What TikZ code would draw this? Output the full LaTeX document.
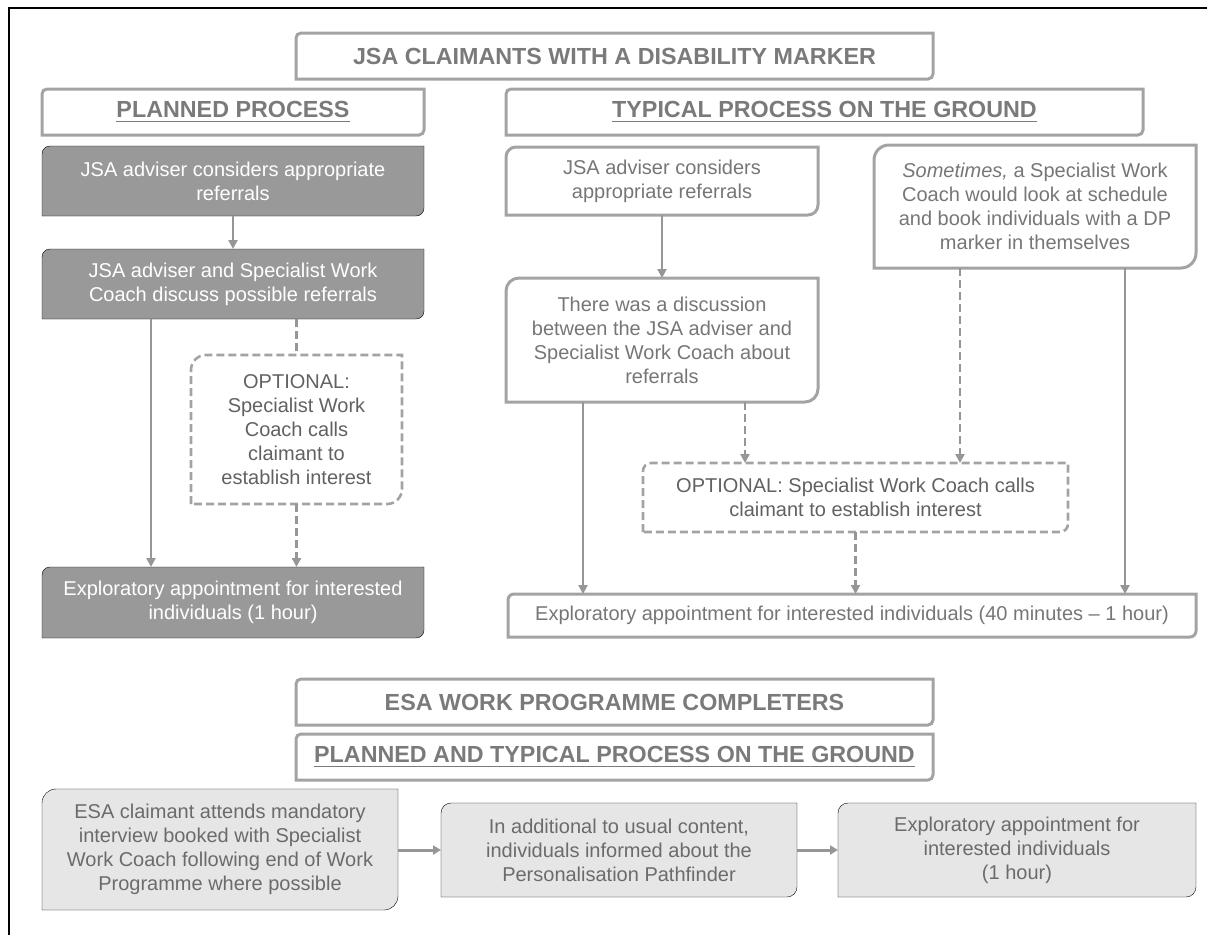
\documentclass[tikz,border=0pt]{standalone}
\usepackage{fontspec}
\setmainfont{Liberation Sans}
\usetikzlibrary{arrows.meta}
\usetikzlibrary{backgrounds}

\definecolor{boxgray}{RGB}{163,163,163}
\definecolor{fillgray}{RGB}{153,153,153}
\definecolor{paleFill}{RGB}{230,230,230}
\definecolor{textgray}{RGB}{118,118,118}
\definecolor{headgray}{RGB}{122,122,122}
\definecolor{arrowgray}{RGB}{150,150,150}

\newcommand{\headline}[1]{\setbox0=\hbox{#1}\rlap{\rule[-4.3pt]{\wd0}{1.6pt}}\box0}
\newcommand{\diagframe}[3][]{\draw[#1] (#2.south west) -- ([yshift=-#3]#2.north west) arc[start angle=180,end angle=90,radius=#3] -- (#2.north east) -- ([yshift=#3]#2.south east) arc[start angle=0,end angle=-90,radius=#3] -- cycle;}

\begin{document}
\begin{tikzpicture}
        [x=1pt, y=1pt,
        box/.style = {inner sep=0pt, outer sep=0pt, align=center, anchor=north west, font=\fontsize{20}{24}\selectfont},
        hdr/.style = {box, minimum height=46pt, text=headgray, font=\fontsize{23.3}{28}\selectfont\bfseries},
        darkbox/.style = {box, minimum width=382pt, text=white},
        outbox/.style = {box, text=textgray},
        optbox/.style = {box, text=black!62},
        palebox/.style = {box, text=black!58},
        hdrframe/.style = {draw=boxgray, line width=3pt},
        darkframe/.style = {fill=fillgray},
        outframe/.style = {draw=boxgray, line width=3pt},
        optframe/.style = {draw=boxgray, line width=2.6pt, dash pattern=on 8pt off 4pt},
        paleframe/.style = {fill=paleFill},
        flow/.style = {draw=arrowgray, line width=2.6pt, -{Triangle[length=9pt,width=9pt]}},
        optline/.style = {draw=arrowgray, line width=2.6pt, dash pattern=on 8pt off 4pt},
        optflow/.style = {optline, -{Triangle[length=9pt,width=9pt]}},
        stepflow/.style = {draw=arrowgray, line width=3pt, -{Triangle[length=8pt,width=9pt]}}]
        \useasboundingbox (0,0) rectangle (1207,-935);
        \draw[line width=1.5pt] (9,-935) -- (9,-8) -- (1207,-8);

        \node[hdr, minimum width=637pt] (hJSA) at (296,-33) {JSA CLAIMANTS WITH A DISABILITY MARKER};
        \node[hdr, minimum width=382pt] (hPlan) at (42,-89) {\headline{PLANNED PROCESS}};
        \node[hdr, minimum width=637pt] (hTyp) at (506,-89) {\headline{TYPICAL PROCESS ON THE GROUND}};

        \node[darkbox, minimum height=70pt] (pA) at (42,-146) {JSA adviser considers appropriate\\referrals};
        \node[darkbox, minimum height=70pt] (pB) at (42,-249) {JSA adviser and Specialist Work\\Coach discuss possible referrals};
        \node[optbox, minimum width=211pt, minimum height=149pt] (pOpt) at (191,-355) {OPTIONAL:\\Specialist Work\\Coach calls\\claimant to\\establish interest};
        \node[darkbox, minimum height=71pt] (pExp) at (42,-567) {Exploratory appointment for interested\\individuals (1 hour)};

        \node[outbox, minimum width=312pt, minimum height=68pt] (tA) at (506,-147) {JSA adviser considers\\appropriate referrals};
        \node[outbox, minimum width=312pt, minimum height=124pt] (tB) at (506,-278) {There was a discussion\\between the JSA adviser and\\Specialist Work Coach about\\referrals};
        \node[outbox, minimum width=322pt, minimum height=123pt] (tS) at (874,-145) {\textit{Sometimes,} a Specialist Work\\Coach would look at schedule\\and book individuals with a DP\\marker in themselves};
        \node[optbox, minimum width=425pt, minimum height=69pt] (tOpt) at (643,-463) {OPTIONAL: Specialist Work Coach calls\\claimant to establish interest};
        \node[outbox, minimum width=688pt, minimum height=43pt] (tExp) at (508,-594) {Exploratory appointment for interested individuals (40 minutes – 1 hour)};

        \node[hdr, minimum width=637pt] (hESA) at (296,-679) {ESA WORK PROGRAMME COMPLETERS};
        \node[hdr, minimum width=637pt] (hBoth) at (296,-734) {\headline{PLANNED AND TYPICAL PROCESS ON THE GROUND}};

        \node[palebox, minimum width=356pt, minimum height=121pt] (eA) at (42,-789) {ESA claimant attends mandatory\\interview booked with Specialist\\Work Coach following end of Work\\Programme where possible};
        \node[palebox, minimum width=356pt, minimum height=94pt] (eB) at (441,-803) {In additional to usual content,\\individuals informed about the\\Personalisation Pathfinder};
        \node[palebox, minimum width=358pt, minimum height=94pt] (eC) at (838,-803) {Exploratory appointment for\\interested individuals\\(1 hour)};

        \begin{scope}[on background layer]
        \diagframe[hdrframe]{hJSA}{5pt}
        \diagframe[hdrframe]{hPlan}{5pt}
        \diagframe[hdrframe]{hTyp}{5pt}
        \diagframe[darkframe]{pA}{8pt}
        \diagframe[darkframe]{pB}{8pt}
        \diagframe[optframe]{pOpt}{15pt}
        \diagframe[darkframe]{pExp}{8pt}
        \diagframe[outframe]{tA}{10pt}
        \diagframe[outframe]{tB}{13pt}
        \diagframe[outframe]{tS}{15pt}
        \diagframe[optframe]{tOpt}{8pt}
        \diagframe[outframe]{tExp}{6pt}
        \diagframe[hdrframe]{hESA}{5pt}
        \diagframe[hdrframe]{hBoth}{5pt}
        \diagframe[paleframe]{eA}{14pt}
        \diagframe[paleframe]{eB}{10pt}
        \diagframe[paleframe]{eC}{10pt}
        \end{scope}

        \draw[flow] (pA) -- (pB);
        \draw[flow] ([xshift=-82pt]pB.south) -- ([xshift=-82pt]pExp.north);
        \draw[optline] (pB.south -| pOpt.north) -- (pOpt.north);
        \draw[optflow] (pOpt.south) -- (pOpt.south |- pExp.north);

        \draw[flow] (tA) -- (tB);
        \draw[flow] ([xshift=-79pt]tB.south) -- ([xshift=-79pt]tB.south |- tExp.north);
        \draw[optflow] ([xshift=83pt]tB.south) -- ([xshift=83pt]tB.south |- tOpt.north);
        \draw[optflow] ([xshift=-75pt]tS.south) -- ([xshift=-75pt]tS.south |- tOpt.north);
        \draw[flow] ([xshift=90pt]tS.south) -- ([xshift=90pt]tS.south |- tExp.north);
        \draw[optflow] (tOpt.south) -- (tOpt.south |- tExp.north);

        \draw[stepflow] (eA.east |- eB.west) -- (eB.west);
        \draw[stepflow] (eB) -- (eC);
\end{tikzpicture}
\end{document}
